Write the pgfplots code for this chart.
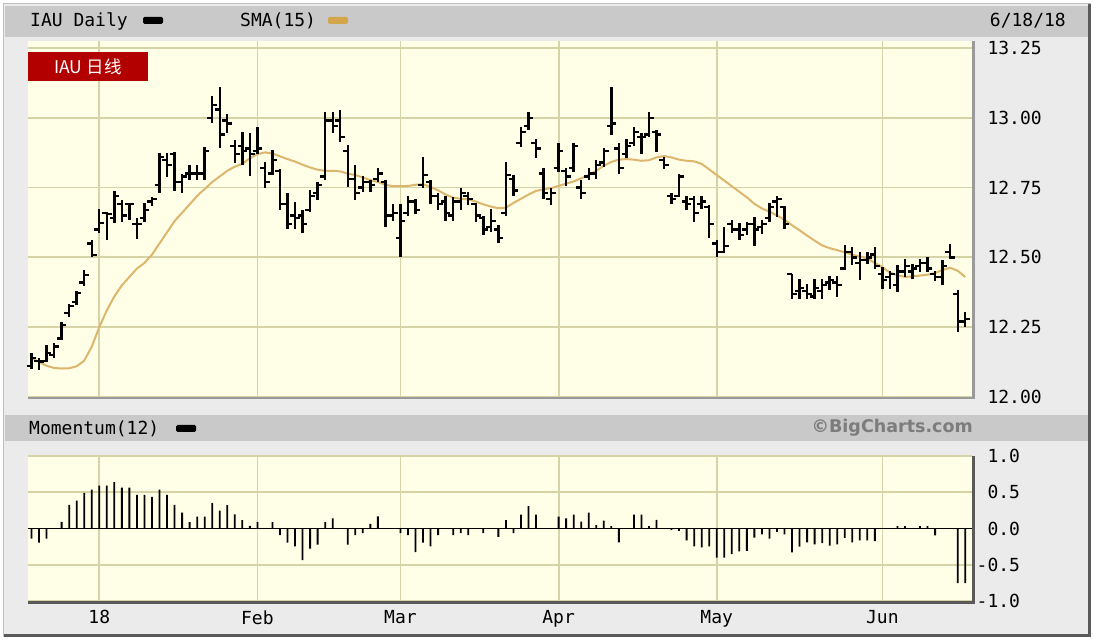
\documentclass[border=0pt]{standalone}
\usepackage{pgfplots}
\pgfplotsset{compat=1.18}
\usepackage{pgfplotstable}
\usepackage{fontspec}
\setmainfont{DejaVu Sans}
\newfontfamily\monofont{DejaVu Sans Mono}
\newfontfamily\cjk{Noto Sans CJK SC}

\definecolor{plotbg}{HTML}{FFFEE6}
\definecolor{gridc}{HTML}{D6D3A6}
\definecolor{smac}{HTML}{DDB66E}
\definecolor{smasw}{HTML}{D4A64C}
\definecolor{bandbg}{HTML}{C9C9C9}
\definecolor{pagebg}{HTML}{EBEBEB}
\definecolor{redbox}{HTML}{B20000}
\definecolor{bordergray}{HTML}{9A9A9A}
\definecolor{darkborder}{HTML}{5A5A5A}
\definecolor{bctext}{HTML}{7C7C7C}

\pgfdeclareplotmark{otick}{\pgfpathmoveto{\pgfqpoint{-4.8pt}{0pt}}\pgfpathlineto{\pgfqpoint{0pt}{0pt}}\pgfusepathqstroke}
\pgfdeclareplotmark{ctick}{\pgfpathmoveto{\pgfqpoint{0pt}{0pt}}\pgfpathlineto{\pgfqpoint{4.8pt}{0pt}}\pgfusepathqstroke}

\pgfplotstableread{
i o h l c
0 12.11 12.159 12.100 12.14
1 12.13 12.139 12.095 12.127
2 12.13 12.187 12.124 12.157
3 12.15 12.193 12.139 12.181
4 12.21 12.267 12.205 12.258
5 12.30 12.334 12.288 12.326
6 12.34 12.381 12.330 12.372
7 12.41 12.455 12.398 12.437
8 12.55 12.563 12.501 12.509
9 12.60 12.672 12.587 12.622
10 12.66 12.664 12.563 12.655
11 12.64 12.739 12.622 12.72
12 12.69 12.706 12.628 12.65
13 12.692 12.694 12.634 12.69
14 12.62 12.640 12.565 12.62
15 12.64 12.694 12.628 12.67
16 12.70 12.718 12.684 12.71
17 12.76 12.873 12.730 12.86
18 12.85 12.873 12.789 12.83
19 12.87 12.879 12.736 12.77
20 12.77 12.800 12.730 12.79
21 12.80 12.830 12.777 12.80
22 12.80 12.830 12.777 12.80
23 12.80 12.896 12.777 12.88
24 13.00 13.078 12.980 13.045
25 13.03 13.111 12.890 12.94
26 12.99 13.012 12.944 12.98
27 12.90 12.920 12.837 12.87
28 12.90 12.950 12.830 12.88
29 12.89 12.944 12.790 12.87
30 12.88 12.968 12.872 12.89
31 12.82 12.843 12.747 12.77
32 12.80 12.884 12.795 12.85
33 12.81 12.818 12.670 12.69
34 12.69 12.730 12.600 12.62
35 12.65 12.700 12.600 12.64
36 12.65 12.670 12.586 12.62
37 12.67 12.740 12.664 12.72
38 12.73 12.770 12.705 12.76
39 12.79 13.020 12.777 12.99
40 12.99 13.020 12.944 12.97
41 12.99 13.027 12.914 12.93
42 12.88 12.902 12.753 12.78
43 12.78 12.830 12.705 12.73
44 12.75 12.790 12.735 12.77
45 12.77 12.777 12.735 12.76
46 12.78 12.820 12.770 12.80
47 12.77 12.777 12.610 12.65
48 12.65 12.690 12.630 12.66
49 12.57 12.690 12.500 12.63
50 12.66 12.720 12.650 12.70
51 12.70 12.710 12.657 12.67
52 12.76 12.860 12.750 12.795
53 12.77 12.777 12.690 12.72
54 12.72 12.730 12.670 12.69
55 12.70 12.720 12.630 12.66
56 12.65 12.717 12.630 12.70
57 12.70 12.750 12.670 12.73
58 12.72 12.735 12.687 12.71
59 12.69 12.693 12.627 12.65
60 12.64 12.650 12.580 12.60
61 12.61 12.675 12.590 12.63
62 12.60 12.615 12.550 12.57
63 12.66 12.840 12.650 12.795
64 12.78 12.795 12.720 12.74
65 12.91 12.968 12.896 12.95
66 12.97 13.020 12.958 13.00
67 12.91 12.925 12.855 12.89
68 12.80 12.820 12.710 12.73
69 12.71 12.747 12.687 12.73
70 12.82 12.908 12.806 12.88
71 12.81 12.820 12.757 12.79
72 12.82 12.908 12.806 12.90
73 12.75 12.777 12.710 12.73
74 12.79 12.820 12.777 12.80
75 12.80 12.850 12.780 12.83
76 12.84 12.890 12.825 12.88
77 12.97 13.111 12.940 12.98
78 12.89 12.908 12.800 12.82
79 12.87 12.925 12.855 12.90
80 12.91 12.968 12.900 12.95
81 12.93 12.944 12.870 12.93
82 12.94 13.020 12.930 13.00
83 12.95 12.955 12.877 12.94
84 12.85 12.860 12.817 12.83
85 12.72 12.730 12.690 12.71
86 12.72 12.800 12.717 12.79
87 12.70 12.720 12.670 12.69
88 12.71 12.720 12.627 12.66
89 12.69 12.720 12.675 12.70
90 12.68 12.687 12.568 12.62
91 12.55 12.562 12.500 12.52
92 12.52 12.610 12.515 12.54
93 12.62 12.634 12.586 12.60
94 12.60 12.622 12.562 12.58
95 12.60 12.628 12.580 12.62
96 12.62 12.645 12.540 12.60
97 12.61 12.635 12.582 12.62
98 12.64 12.695 12.627 12.68
99 12.70 12.719 12.645 12.71
100 12.68 12.683 12.603 12.62
101 12.44 12.441 12.352 12.37
102 12.38 12.423 12.352 12.39
103 12.38 12.405 12.352 12.37
104 12.36 12.423 12.352 12.39
105 12.38 12.423 12.352 12.40
106 12.41 12.435 12.382 12.42
107 12.41 12.435 12.358 12.40
108 12.46 12.543 12.456 12.52
109 12.52 12.537 12.471 12.50
110 12.48 12.519 12.418 12.49
111 12.49 12.519 12.477 12.50
112 12.51 12.537 12.459 12.47
113 12.44 12.465 12.388 12.42
114 12.43 12.453 12.388 12.44
115 12.40 12.471 12.376 12.45
116 12.45 12.495 12.430 12.47
117 12.45 12.477 12.423 12.46
118 12.47 12.495 12.447 12.48
119 12.48 12.501 12.447 12.46
120 12.44 12.453 12.417 12.43
121 12.43 12.489 12.400 12.47
122 12.52 12.549 12.495 12.50
123 12.37 12.382 12.232 12.27
124 12.27 12.304 12.250 12.28
}\ohlc

\pgfplotstableread{
i v
0 12.139
1 12.125
2 12.112
3 12.104
4 12.102
5 12.103
6 12.110
7 12.130
8 12.180
9 12.250
10 12.310
11 12.360
12 12.400
13 12.430
14 12.460
15 12.480
16 12.510
17 12.550
18 12.590
19 12.630
20 12.660
21 12.690
22 12.720
23 12.745
24 12.770
25 12.790
26 12.810
27 12.825
28 12.835
29 12.855
30 12.870
31 12.876
32 12.872
33 12.862
34 12.852
35 12.843
36 12.832
37 12.822
38 12.814
39 12.810
40 12.810
41 12.808
42 12.800
43 12.795
44 12.786
45 12.777
46 12.770
47 12.760
48 12.755
49 12.755
50 12.756
51 12.760
52 12.762
53 12.752
54 12.740
55 12.725
56 12.714
57 12.710
58 12.708
59 12.700
60 12.690
61 12.682
62 12.676
63 12.678
64 12.695
65 12.710
66 12.725
67 12.738
68 12.744
69 12.748
70 12.756
71 12.764
72 12.772
73 12.783
74 12.795
75 12.810
76 12.828
77 12.842
78 12.850
79 12.852
80 12.850
81 12.846
82 12.848
83 12.858
84 12.863
85 12.858
86 12.850
87 12.846
88 12.844
89 12.835
90 12.815
91 12.795
92 12.775
93 12.755
94 12.735
95 12.715
96 12.692
97 12.675
98 12.664
99 12.650
100 12.635
101 12.615
102 12.597
103 12.578
104 12.560
105 12.543
106 12.533
107 12.526
108 12.518
109 12.510
110 12.503
111 12.496
112 12.480
113 12.465
114 12.445
115 12.436
116 12.430
117 12.432
118 12.435
119 12.438
120 12.444
121 12.455
122 12.463
123 12.452
124 12.430
}\sma

\pgfplotstableread{
i m
0 -0.140
1 -0.196
2 -0.140
3 0
4 0.093
5 0.327
6 0.383
7 0.490
8 0.537
9 0.593
10 0.593
11 0.640
12 0.565
13 0.565
14 0.463
15 0.463
16 0.435
17 0.537
18 0.463
19 0.327
20 0.220
21 0.089
22 0.164
23 0.164
24 0.350
25 0.248
26 0.322
27 0.196
28 0.117
29 0.037
30 0.089
31 0
32 0.089
33 -0.093
34 -0.196
35 -0.248
36 -0.435
37 -0.276
38 -0.224
39 0.089
40 0.140
41 0
42 -0.224
43 -0.093
44 -0.065
45 0.065
46 0.168
47 0
48 0
49 -0.065
50 -0.093
51 -0.327
52 -0.196
53 -0.248
54 -0.093
55 0
56 -0.093
57 -0.065
58 -0.093
59 0
60 -0.065
61 0
62 -0.117
63 0.117
64 -0.065
65 0.190
66 0.310
67 0.190
68 0
69 0
70 0.165
71 0.140
72 0.190
73 0.094
74 0.220
75 0.047
76 0.108
77 0.033
78 -0.190
79 0
80 0.190
81 0.190
82 0.033
83 0.118
84 0
85 -0.024
86 -0.033
87 -0.165
88 -0.245
89 -0.260
90 -0.245
91 -0.400
92 -0.400
93 -0.354
94 -0.316
95 -0.307
96 -0.127
97 -0.080
98 -0.140
99 -0.047
100 -0.080
101 -0.330
102 -0.250
103 -0.190
104 -0.220
105 -0.200
106 -0.236
107 -0.220
108 -0.130
109 -0.190
110 -0.165
111 -0.165
112 -0.175
113 0
114 0
115 0.033
116 0.033
117 0
118 0.033
119 0.033
120 -0.094
121 0
122 0
123 -0.755
124 -0.755
}\mom

\pgfplotsset{
  panel/.style={
    scale only axis,
    xmin=-0.465, xmax=124.9,
    axis background/.style={fill=plotbg},
    axis line style={draw=none},
    major tick length=0pt,
    tick style={draw=none},
    grid=major,
    grid style={gridc, line width=1.8pt},
    xtick={9,30,49,70,91,113},
    yticklabel pos=right,
    ticklabel style={font=\monofont\fontsize{18}{18}\selectfont, text=black},
    yticklabel style={anchor=west, xshift=12pt},
  }
}

\begin{document}
\begin{tikzpicture}[x=1pt,y=1pt]
\path[use as bounding box, fill=white] (0,0) rectangle (1094,640);
\fill[pagebg] (3,3) rectangle (1091,637);
% outer frame
\draw[line width=1.2pt, white!75!black] (3.6,3) -- (3.6,636.4) -- (1091,636.4);
\draw[line width=3pt, darkborder] (4,4.5) -- (1089.5,4.5) -- (1089.5,636);
% header band
\fill[bandbg] (5,603) rectangle (1088,634);
\node[anchor=west, inner sep=0pt, font=\monofont\fontsize{18}{18}\selectfont] at (30,619) {IAU Daily};
\fill[black, rounded corners=1.5pt] (143,616) rectangle (163,623);
\node[anchor=west, inner sep=0pt, font=\monofont\fontsize{18}{18}\selectfont] at (240,619) {SMA(15)};
\fill[smasw, rounded corners=1.5pt] (328,616) rectangle (348,623);
\node[anchor=east, inner sep=0pt, font=\monofont\fontsize{18}{18}\selectfont] at (1066,619) {6/18/18};
% middle band
\fill[bandbg] (5,199) rectangle (1088,225);
\node[anchor=west, inner sep=0pt, font=\monofont\fontsize{18}{18}\selectfont] at (29,211) {Momentum(12)};
\fill[black, rounded corners=1.5pt] (176,208) rectangle (196,215);
\node[anchor=east, inner sep=0pt, font=\bfseries\fontsize{17.5}{17.5}\selectfont, text=bctext] at (973,212) {©BigCharts.com};

% main price panel
\begin{axis}[panel,
  at={(28pt,243pt)}, anchor=south west,
  width=944pt, height=356pt,
  ymin=12, ymax=13.275,
  xticklabels={,,,,,},
  ytick={12,12.25,12.5,12.75,13,13.25},
  yticklabels={12.00,12.25,12.50,12.75,13.00,13.25},
]
\addplot[smac, line width=2pt, no markers] table[x=i, y=v] {\sma};
\addplot[only marks, mark=ctick, mark options={line width=2.3pt, black},
  error bars/.cd, y dir=both, y explicit, error mark=none,
  error bar style={line width=2.4pt, black}]
  table[x=i, y=c, y error plus expr=\thisrow{h}-\thisrow{c}, y error minus expr=\thisrow{c}-\thisrow{l}] {\ohlc};
\addplot[only marks, mark=otick, mark options={line width=2.3pt, black}]
  table[x=i, y=o] {\ohlc};
\end{axis}
\draw[bordergray, line width=2.5pt] (973.25,599) -- (973.25,241.75) -- (28,241.75);

% red label box
\fill[redbox] (28,559) rectangle (148,588);
\node[text=white, inner sep=0pt, font=\cjk\fontsize{17.5}{17.5}\selectfont] at (88,573.5) {IAU 日线};

% momentum panel
\begin{axis}[panel,
  at={(28pt,39pt)}, anchor=south west,
  width=944pt, height=145pt,
  ymin=-1, ymax=1,
  ytick={-1,-0.5,0,0.5,1},
  yticklabels={\llap{-}1.0,\llap{-}0.5,0.0,0.5,1.0},
  xticklabels={18,Feb,Mar,Apr,May,Jun},
  xticklabel style={yshift=-6pt},
  extra y ticks={0},
  extra y tick labels={},
  extra y tick style={grid style={black, line width=1.6pt}},
]
\addplot[ybar, bar width=1.8pt, fill=black, draw=none] table[x=i, y=m] {\mom};
\end{axis}
\draw[darkborder, line width=2.5pt] (973.25,184) -- (973.25,37.75) -- (28,37.75);
\end{tikzpicture}
\end{document}
